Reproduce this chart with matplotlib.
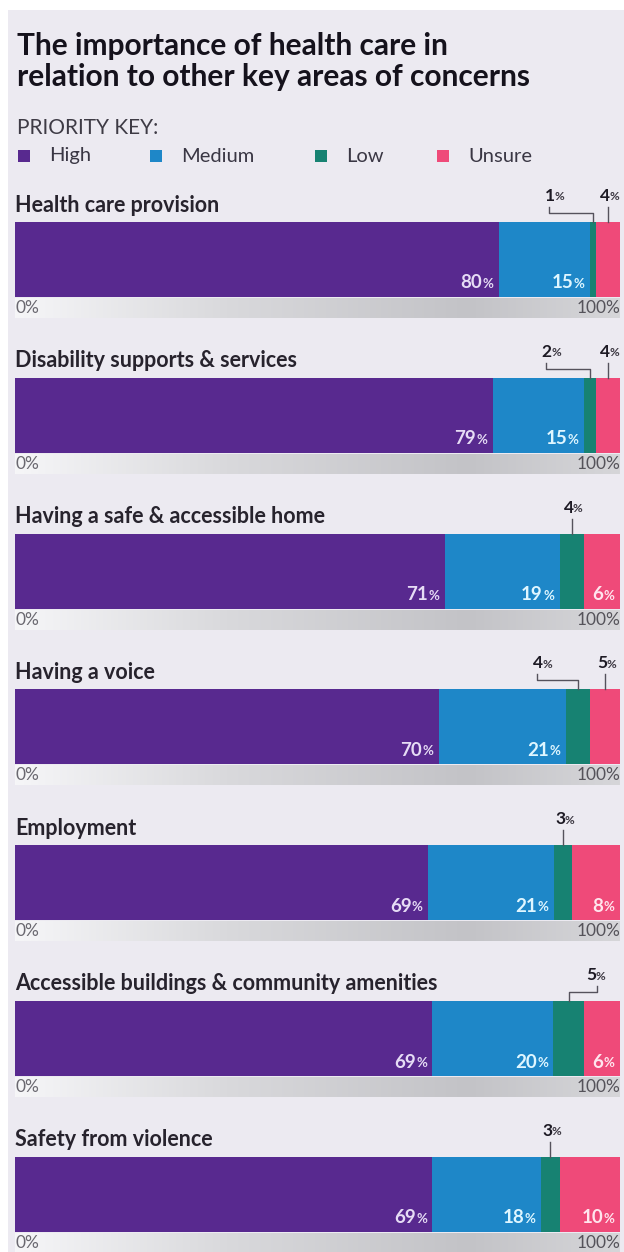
import numpy as np
import matplotlib
matplotlib.use("Agg")
import matplotlib.pyplot as plt
from matplotlib.patches import Rectangle
from matplotlib.colors import LinearSegmentedColormap

# ---- data -------------------------------------------------------------
categories = [
    "Health care provision",
    "Disability supports & services",
    "Having a safe & accessible home",
    "Having a voice",
    "Employment",
    "Accessible buildings & community amenities",
    "Safety from violence",
]
high = [80, 79, 71, 70, 69, 69, 69]
medium = [15, 15, 19, 21, 21, 20, 18]
low = [1, 2, 4, 4, 3, 5, 3]
unsure = [4, 4, 6, 5, 8, 6, 10]
series_names = ["High", "Medium", "Low", "Unsure"]
axis_labels = ["0%", "100%"]

# ---- style ------------------------------------------------------------
colors = ["#58298f", "#1e87c8", "#178272", "#ef4a79"]
inner_text = ["#e6dcf5", "#dff6ff", "#ffffff", "#ffe6ee"]
panel_bg = "#eceaf1"
FONT = ["Lato", "DejaVu Sans"]
W, H = 624, 1252
plt.rcParams["font.family"] = FONT

fig = plt.figure(figsize=(W / 100, H / 100), dpi=100)
fig.patch.set_facecolor("white")
fig.patches.append(Rectangle((8 / W, 0), 1, 1 - 10 / H, transform=fig.transFigure,
                             facecolor=panel_bg, edgecolor="none", zorder=-10))


def fy(py):
    return 1 - py / H


# title and key
fig.text(17 / W, fy(46), "The importance of health care in", fontsize=21.5,
         fontweight="bold", color="#15121c", va="center")
fig.text(17 / W, fy(77), "relation to other key areas of concerns", fontsize=21.5,
         fontweight="bold", color="#15121c", va="center")
fig.text(17 / W, fy(128), "PRIORITY KEY:", fontsize=15, color="#3e3b45", va="center")
key_x = [18, 150, 315, 437]
for kx, name, c in zip(key_x, series_names, colors):
    fig.patches.append(Rectangle((kx / W, fy(162)), 12 / W, 12 / H, transform=fig.transFigure,
                                 facecolor=c, edgecolor="none"))
    fig.text((kx + 31) / W, fy(156), name, fontsize=14.5, color="#3a3744", va="center")

# layout of the rows (pixels)
left_px, right_px = 15, 620
bar_top0, row_step = 222, 155.8
bar_h, strip_h = 75, 21
# horizontal shift (px) of outside labels for small segments: (low, unsure)
label_shift = {0: (-40, 0), 1: (-40, 0), 3: (-37, 0), 5: (26, 0)}
outside_max = 5

strip_cmap = LinearSegmentedColormap.from_list(
    "strip", [(0, "#f6f6f8"), (0.35, "#d9d9dc"), (0.75, "#c3c3c7"), (1, "#d6d6d9")])

for i, cat in enumerate(categories):
    vals = [high[i], medium[i], low[i], unsure[i]]
    total = sum(vals)
    top = bar_top0 + i * row_step
    ax = fig.add_axes([left_px / W, fy(top + bar_h + strip_h),
                       (right_px - left_px) / W, (bar_h + strip_h) / H])
    ax.set_xlim(0, total)
    ax.set_ylim(0, bar_h + strip_h)
    ax.axis("off")
    px = total / (right_px - left_px)  # data units per pixel along x
    y0 = strip_h

    # gradient scale strip below the bar
    ax.imshow(np.linspace(0, 1, 256)[None, :], cmap=strip_cmap, aspect="auto",
              extent=(0, total, 0, strip_h - 1), zorder=0)
    ax.text(0, (strip_h - 1) / 2, axis_labels[0], fontsize=12.5, color="#6a6870",
            va="center", ha="left")
    ax.text(total, (strip_h - 1) / 2, axis_labels[1], fontsize=12.5, color="#55535a",
            va="center", ha="right")

    # category title
    ax.text(0, bar_h + strip_h + 17, cat, fontsize=15.5, fontweight="bold",
            color="#27232d", va="center", ha="left", clip_on=False)

    lefts = np.concatenate([[0], np.cumsum(vals)[:-1]])
    ax.barh(y0 + bar_h / 2, vals, left=lefts, height=bar_h, color=colors,
            edgecolor="none", zorder=2)

    for j, (v, l) in enumerate(zip(vals, lefts)):
        end = l + v
        if j >= 2 and v <= outside_max:
            # small segment: label above the bar with a leader line
            cx = l + v / 2
            shift = label_shift.get(i, (0, 0))[j - 2]
            lx = cx + shift * px
            top_y = y0 + bar_h
            if shift == 0:
                ax.plot([cx, cx], [top_y, top_y + 15], color="#55525c", lw=1,
                        clip_on=False, zorder=3)
            else:
                kx = lx + (-4 if shift < 0 else 2) * px
                ax.plot([cx, cx, kx, kx], [top_y, top_y + 9, top_y + 9, top_y + 15],
                        color="#55525c", lw=1, clip_on=False, zorder=3)
            ax.annotate(f"{v}", (lx, top_y + 26), xytext=(1.5, 0), textcoords="offset points",
                        fontsize=12.5, fontweight="bold", color="#1d1a24",
                        ha="right", va="center", annotation_clip=False)
            ax.annotate("%", (lx, top_y + 25), xytext=(1, 0), textcoords="offset points",
                        fontsize=8.5, fontweight="bold", color="#3a3640",
                        ha="left", va="center", annotation_clip=False)
        else:
            ax.annotate("%", (end, y0 + 13), xytext=(-4, 0), textcoords="offset points",
                        fontsize=9.5, fontweight="bold", color=inner_text[j],
                        ha="right", va="center", zorder=4)
            ax.annotate(f"{v}", (end, y0 + 14), xytext=(-12, 0), textcoords="offset points",
                        fontsize=13.5, fontweight="bold", color=inner_text[j],
                        ha="right", va="center", zorder=4)

fig.savefig("out.png", dpi=100, facecolor=fig.get_facecolor())
